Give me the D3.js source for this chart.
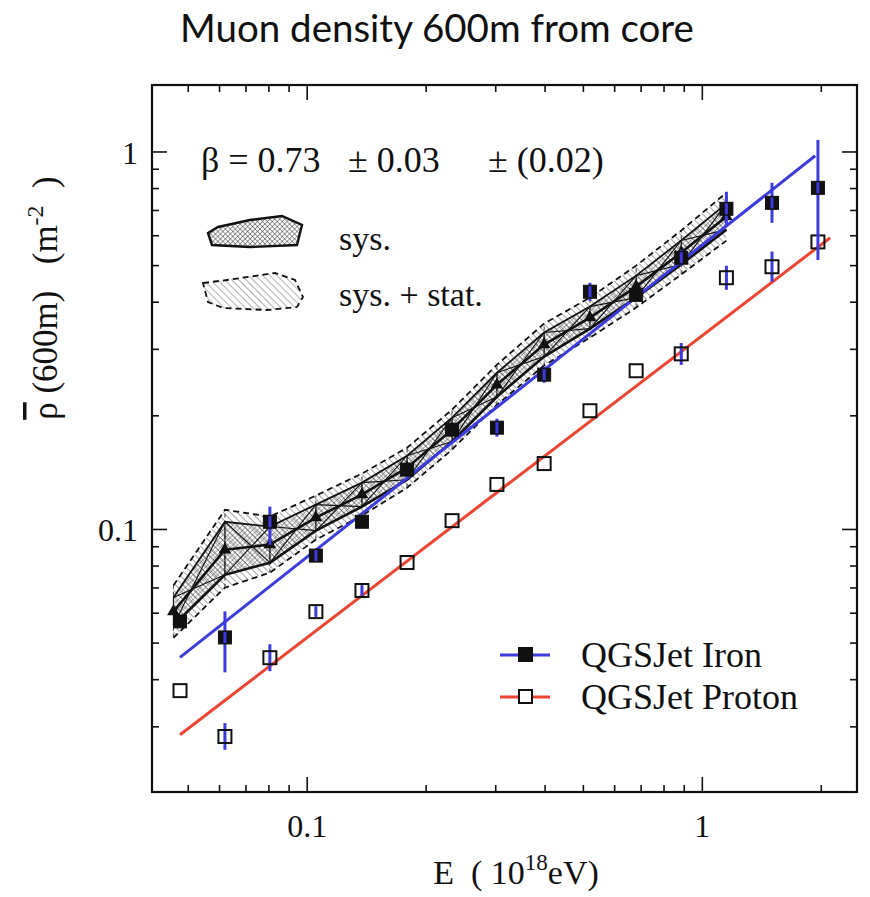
<!DOCTYPE html>
<html>
<head>
<meta charset="utf-8">
<script src="https://cdn.jsdelivr.net/npm/d3@7/dist/d3.min.js"></script>
<style>
  html, body { margin: 0; padding: 0; background: #fff; }
  svg { display: block; }
</style>
</head>
<body>
<svg id="chart" width="870" height="897"></svg>
<script>
// ---- Energy bins (10^18 eV) ----
const energy = [0.0478, 0.0621, 0.0807, 0.1055, 0.138, 0.1795, 0.2333, 0.303, 0.399, 0.521, 0.682, 0.887, 1.154, 1.505, 1.967];

// ---- QGSJet iron simulation (filled squares) ----
const ironRho   = [0.0569, 0.0516, 0.1045, 0.0850, 0.1045, 0.1436, 0.1833, 0.1855, 0.2563, 0.425, 0.417, 0.523, 0.705, 0.731, 0.801];
const ironErrLo = [null, 0.0417, 0.0908, 0.0819, null, null, null, 0.1756, 0.244, 0.402, null, 0.498, 0.636, 0.647, 0.516];
const ironErrHi = [null, 0.0605, 0.1146, 0.0882, null, null, null, 0.196, 0.269, 0.449, null, 0.549, 0.782, 0.826, 1.073];

// ---- QGSJet proton simulation (open squares) ----
const protonRho   = [0.0373, 0.0282, 0.0456, 0.0604, 0.0687, 0.0815, 0.1052, 0.1312, 0.149, 0.2057, 0.2625, 0.291, 0.463, 0.495, 0.576];
const protonErrLo = [null, 0.0260, 0.0420, 0.0586, 0.0666, null, null, null, null, null, null, 0.272, 0.430, 0.452, null];
const protonErrHi = [null, 0.0306, 0.0495, 0.0623, 0.0708, null, null, null, null, null, null, 0.311, 0.498, 0.543, null];

// ---- Power-law fits to the simulations ----
const ironFitE     = [0.0478, 1.936];
const ironFitRho   = [0.0457, 0.974];
const protonFitE   = [0.0478, 2.113];
const protonFitRho = [0.0285, 0.591];

// ---- Measured muon density with systematic and total uncertainty bands ----
const bandE     = [0.046, 0.0621, 0.0807, 0.1055, 0.138, 0.1795, 0.2333, 0.303, 0.399, 0.521, 0.682, 0.887, 1.154];
const bandRho   = [0.0604, 0.0881, 0.0909, 0.1072, 0.1233, 0.1453, 0.1833, 0.241, 0.308, 0.363, 0.4385, 0.540, 0.672];
const sysLo     = [0.0555, 0.0756, 0.0814, 0.0990, 0.1146, 0.1350, 0.1704, 0.2240, 0.2863, 0.3394, 0.4100, 0.502, 0.6208];
const sysHi     = [0.0658, 0.1045, 0.1015, 0.1160, 0.1327, 0.1563, 0.1972, 0.2593, 0.3314, 0.3882, 0.4689, 0.581, 0.7274];
const totLo     = [0.0515, 0.0699, 0.0766, 0.0937, 0.1085, 0.1286, 0.1623, 0.2133, 0.2710, 0.3213, 0.3858, 0.4722, 0.5805];
const totHi     = [0.0708, 0.1124, 0.1078, 0.1226, 0.1402, 0.1641, 0.2071, 0.2723, 0.3501, 0.4101, 0.4984, 0.6175, 0.778];

// ---- Axis ticks ----
const xMajor = [0.1, 1];
const xMinor = [0.05, 0.06, 0.07, 0.08, 0.09, 0.2, 0.3, 0.4, 0.5, 0.6, 0.7, 0.8, 0.9, 2];
const yMajor = [0.1, 1];
const yMinor = [0.03, 0.04, 0.05, 0.06, 0.07, 0.08, 0.09, 0.2, 0.3, 0.4, 0.5, 0.6, 0.7, 0.8, 0.9];
const xTickLabels = ["0.1", "1"];
const yTickLabels = ["0.1", "1"];

// ---- Text ----
const titleText = "Muon density 600m from core";
const betaParts = ["\u03B2 = 0.73", "\u00B1 0.03", "\u00B1 (0.02)"];
const legendSeries = ["QGSJet Iron", "QGSJet Proton"];
const bandLegend = ["sys.", "sys. + stat."];

const BLUE = "#3b3be0";
const RED = "#ee4430";
const SERIF = "'Liberation Serif', 'DejaVu Serif', serif";

const svg = d3.select("#chart");
const plot = { left: 152, right: 857, top: 85, bottom: 792 };

const x = d3.scaleLog().domain([0.0406, 2.47]).range([plot.left, plot.right]);
const y = d3.scaleLog().domain([0.0201, 1.50]).range([plot.bottom, plot.top]);

// ---- Patterns ----
const defs = svg.append("defs");
const hatch = defs.append("pattern")
  .attr("id", "hatchTot").attr("patternUnits", "userSpaceOnUse")
  .attr("width", 5).attr("height", 5).attr("patternTransform", "rotate(-45)");
hatch.append("line").attr("x1", 0).attr("y1", 0).attr("x2", 0).attr("y2", 5)
  .attr("stroke", "#333").attr("stroke-width", 1);
const cross = defs.append("pattern")
  .attr("id", "crossSys").attr("patternUnits", "userSpaceOnUse")
  .attr("width", 3.5).attr("height", 3.5).attr("patternTransform", "rotate(45)");
cross.append("line").attr("x1", 0).attr("y1", 0).attr("x2", 0).attr("y2", 3.5)
  .attr("stroke", "#222").attr("stroke-width", 0.9);
cross.append("line").attr("x1", 0).attr("y1", 0).attr("x2", 3.5).attr("y2", 0)
  .attr("stroke", "#222").attr("stroke-width", 0.9);
defs.append("clipPath").attr("id", "plotClip").append("rect")
  .attr("x", plot.left).attr("y", plot.top)
  .attr("width", plot.right - plot.left).attr("height", plot.bottom - plot.top);

// ---- Title ----
svg.append("text")
  .attr("x", 437).attr("y", 42)
  .attr("text-anchor", "middle")
  .attr("font-family", "Lato, 'Open Sans', sans-serif")
  .attr("font-size", 38.5)
  .attr("fill", "#111")
  .text(titleText);

// ---- Axes (ticks on all four sides, pointing inwards) ----
function addAxis(axisFn, scale, values, size, labels, transform, pad) {
  const a = axisFn(scale).tickValues(values).tickSizeInner(-size).tickSizeOuter(0)
    .tickPadding(pad || 0);
  if (labels) a.tickFormat((d, i) => labels[i]); else a.tickFormat("");
  const g = svg.append("g").attr("transform", transform).call(a);
  g.select(".domain").remove();
  g.selectAll(".tick line").attr("stroke", "#111").attr("stroke-width", 1.6);
  g.selectAll(".tick text").attr("font-family", SERIF).attr("font-size", 32).attr("fill", "#111");
  return g;
}
addAxis(d3.axisBottom, x, xMajor, 15, xTickLabels, `translate(0,${plot.bottom})`, 22);
addAxis(d3.axisBottom, x, xMinor, 7, null, `translate(0,${plot.bottom})`);
addAxis(d3.axisTop, x, xMajor, 15, null, `translate(0,${plot.top})`);
addAxis(d3.axisTop, x, xMinor, 7, null, `translate(0,${plot.top})`);
const yl = addAxis(d3.axisLeft, y, yMajor, 15, yTickLabels, `translate(${plot.left},0)`, 14);
yl.selectAll(".tick text").attr("dy", "0.36em");
addAxis(d3.axisLeft, y, yMinor, 7, null, `translate(${plot.left},0)`);
addAxis(d3.axisRight, y, yMajor, 15, null, `translate(${plot.right},0)`);
addAxis(d3.axisRight, y, yMinor, 7, null, `translate(${plot.right},0)`);

svg.append("rect")
  .attr("x", plot.left).attr("y", plot.top)
  .attr("width", plot.right - plot.left).attr("height", plot.bottom - plot.top)
  .attr("fill", "none").attr("stroke", "#111").attr("stroke-width", 2.2);

// ---- Axis titles ----
const xt = svg.append("text")
  .attr("x", 516).attr("y", 884)
  .attr("text-anchor", "middle")
  .attr("font-family", SERIF).attr("font-size", 34).attr("fill", "#111")
  .style("white-space", "pre");
xt.append("tspan").text("E  ( 10");
xt.append("tspan").attr("dy", -14).attr("font-size", 23).text("18");
xt.append("tspan").attr("dy", 14).text("eV)");

const yt = svg.append("text")
  .attr("transform", "translate(57,298) rotate(-90)")
  .attr("text-anchor", "middle")
  .attr("font-family", SERIF).attr("font-size", 35).attr("fill", "#111")
  .style("white-space", "pre");
yt.append("tspan").attr("text-decoration", "overline").text("\u03C1");
yt.append("tspan").text(" (600m)   (m");
yt.append("tspan").attr("dy", -14).attr("font-size", 24).text("-2");
yt.append("tspan").attr("dy", 14).text("  )");

const gPlot = svg.append("g").attr("clip-path", "url(#plotClip)");

// ---- Measured band ----
const idx = d3.range(bandE.length);
const areaTot = d3.area().x(i => x(bandE[i])).y0(i => y(totLo[i])).y1(i => y(totHi[i]));
const areaSys = d3.area().x(i => x(bandE[i])).y0(i => y(sysLo[i])).y1(i => y(sysHi[i]));
gPlot.append("path").attr("d", areaTot(idx)).attr("fill", "url(#hatchTot)").attr("opacity", 0.9);
const bandLine = (arr) => d3.line().x(i => x(bandE[i])).y(i => y(arr[i]))(idx);
[totLo, totHi].forEach(arr => {
  gPlot.append("path").attr("d", bandLine(arr)).attr("fill", "none")
    .attr("stroke", "#111").attr("stroke-width", 1.8).attr("stroke-dasharray", "6,4");
});
gPlot.append("path").attr("d", areaSys(idx)).attr("fill", "url(#crossSys)").attr("opacity", 0.75);
// cells of the systematic band, one per energy step
idx.slice(0, -1).forEach(i => {
  const p = [[x(bandE[i]), y(sysLo[i])], [x(bandE[i]), y(sysHi[i])],
             [x(bandE[i + 1]), y(sysHi[i + 1])], [x(bandE[i + 1]), y(sysLo[i + 1])]];
  gPlot.append("path")
    .attr("d", `M${p[0]}L${p[2]}M${p[1]}L${p[3]}M${p[0]}L${p[1]}`)
    .attr("fill", "none").attr("stroke", "#111").attr("stroke-width", 1.1);
  gPlot.append("line")
    .attr("x1", x(bandE[i])).attr("x2", x(bandE[i]))
    .attr("y1", y(totLo[i])).attr("y2", y(totHi[i]))
    .attr("stroke", "#222").attr("stroke-width", 0.9).attr("stroke-dasharray", "4,3");
});
gPlot.append("path").attr("d", bandLine(sysHi)).attr("fill", "none")
  .attr("stroke", "#111").attr("stroke-width", 1.8);
gPlot.append("path").attr("d", bandLine(sysLo)).attr("fill", "none")
  .attr("stroke", "#111").attr("stroke-width", 2.6);
gPlot.append("path").attr("d", bandLine(bandRho)).attr("fill", "none")
  .attr("stroke", "#111").attr("stroke-width", 2.6);
gPlot.selectAll(".tri").data(idx).join("path")
  .attr("transform", i => `translate(${x(bandE[i])},${y(bandRho[i])})`)
  .attr("d", d3.symbol(d3.symbolTriangle, 70)())
  .attr("fill", "#111");

// ---- Fit lines ----
const fitLine = (E, R) => d3.line().x(i => x(E[i])).y(i => y(R[i]))([0, 1]);
gPlot.append("path").attr("d", fitLine(protonFitE, protonFitRho))
  .attr("fill", "none").attr("stroke", RED).attr("stroke-width", 3);
gPlot.append("path").attr("d", fitLine(ironFitE, ironFitRho))
  .attr("fill", "none").attr("stroke", BLUE).attr("stroke-width", 3);

// ---- Simulation points ----
function drawSeries(rho, lo, hi, filled) {
  const g = gPlot.append("g");
  const withErr = d3.range(rho.length).filter(i => lo[i] !== null);
  g.selectAll("line.err").data(withErr).join("line")
    .attr("x1", i => x(energy[i])).attr("x2", i => x(energy[i]))
    .attr("y1", i => y(lo[i])).attr("y2", i => y(hi[i]))
    .attr("stroke", BLUE).attr("stroke-width", 3);
  const s = 13;
  g.selectAll("rect").data(d3.range(rho.length)).join("rect")
    .attr("x", i => x(energy[i]) - s / 2).attr("y", i => y(rho[i]) - s / 2)
    .attr("width", s).attr("height", s)
    .attr("fill", filled ? "#111" : "none")
    .attr("stroke", "#111").attr("stroke-width", filled ? 1 : 2);
  g.selectAll("line.inner").data(withErr).join("line")
    .attr("x1", i => x(energy[i])).attr("x2", i => x(energy[i]))
    .attr("y1", i => y(rho[i]) - s / 2 + 1).attr("y2", i => y(rho[i]) + s / 2 - 1)
    .attr("stroke", BLUE).attr("stroke-width", filled ? 3 : 2);
}
drawSeries(protonRho, protonErrLo, protonErrHi, false);
drawSeries(ironRho, ironErrLo, ironErrHi, true);

// ---- Beta annotation ----
const betaX = [201, 348, 488];
betaParts.forEach((t, k) => {
  svg.append("text")
    .attr("x", betaX[k]).attr("y", 172)
    .attr("font-family", SERIF).attr("font-size", 36).attr("fill", "#111")
    .style("white-space", "pre")
    .text(t);
});

// ---- Band legend ----
const sysShape = [[0,17],[10,11],[42,4],[74,0],[94,9],[89,29],[42,31],[4,29]];
const totShape = [[0,10],[24,7],[72,0],[92,7],[100,24],[94,34],[64,37],[20,35],[5,29]];
const lg1 = svg.append("g").attr("transform", "translate(208,216)");
lg1.append("path").attr("d", d3.line()(sysShape) + "Z")
  .attr("fill", "url(#crossSys)").attr("stroke", "#111").attr("stroke-width", 2.4);
const lg2 = svg.append("g").attr("transform", "translate(203,273)");
lg2.append("path").attr("d", d3.line()(totShape) + "Z")
  .attr("fill", "url(#hatchTot)").attr("fill-opacity", 0.75)
  .attr("stroke", "#111").attr("stroke-width", 1.8).attr("stroke-dasharray", "6,4");
svg.append("text").attr("x", 339).attr("y", 250)
  .attr("font-family", SERIF).attr("font-size", 34).attr("fill", "#111").text(bandLegend[0]);
svg.append("text").attr("x", 339).attr("y", 306)
  .attr("font-family", SERIF).attr("font-size", 34).attr("fill", "#111").text(bandLegend[1]);

// ---- Series legend ----
const legY = [655, 697];
const legColor = [BLUE, RED];
legendSeries.forEach((name, k) => {
  svg.append("line").attr("x1", 500).attr("x2", 550).attr("y1", legY[k]).attr("y2", legY[k])
    .attr("stroke", legColor[k]).attr("stroke-width", 3);
  svg.append("rect").attr("x", 519).attr("y", legY[k] - 7).attr("width", 13).attr("height", 13)
    .attr("fill", k === 0 ? "#111" : "#fff").attr("stroke", "#111").attr("stroke-width", 2);
  svg.append("text").attr("x", 581).attr("y", legY[k] + 12)
    .attr("font-family", SERIF).attr("font-size", 36).attr("fill", "#111").text(name);
});
</script>
</body>
</html>
